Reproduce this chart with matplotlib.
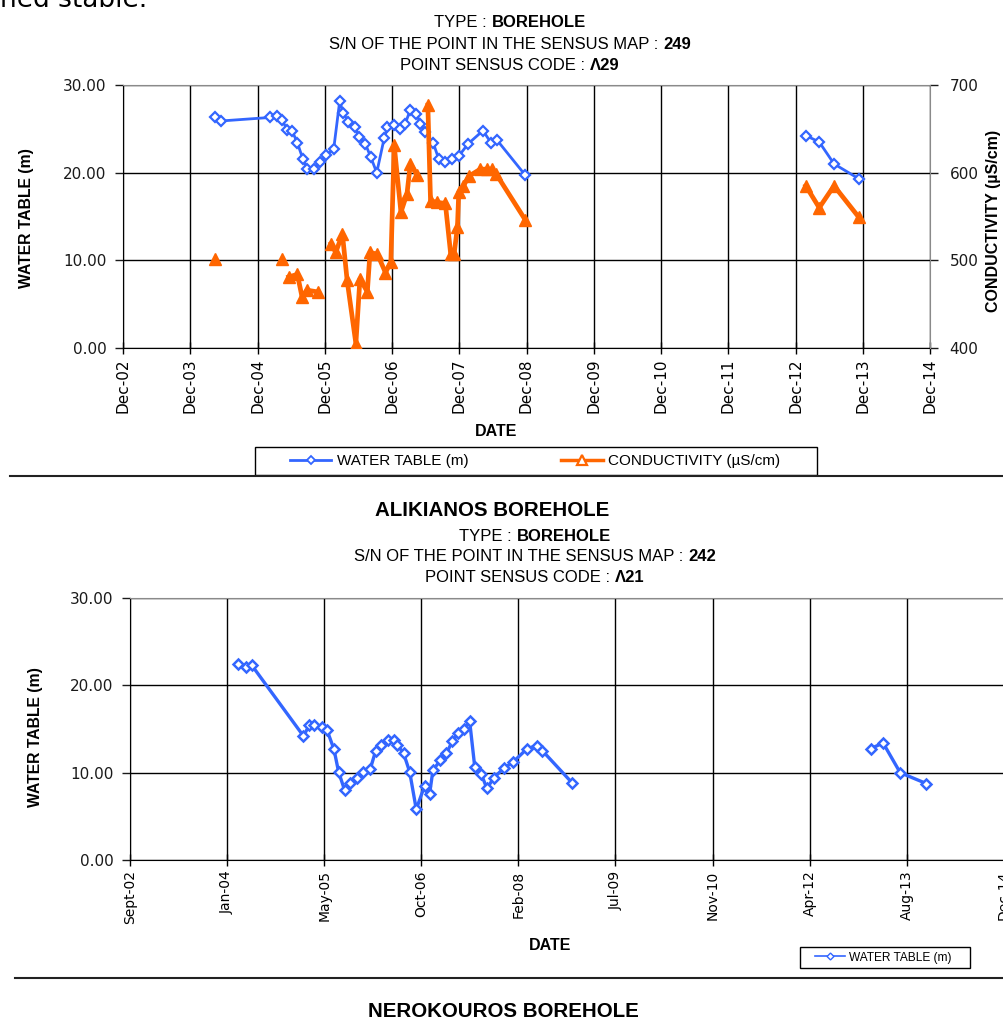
import numpy as np
import matplotlib
matplotlib.use('Agg')
import matplotlib.pyplot as plt
from matplotlib.lines import Line2D
from matplotlib.patches import Rectangle

W, H = 1004, 1019
SANS = ['Liberation Sans', 'DejaVu Sans']
BLUE = '#3366ff'
ORANGE = '#ff6600'
nan = np.nan

# ---------- chart 1 (x = decimal year) ----------
wt1_year = [2004.29, 2004.38, 2005.11, 2005.20, 2005.28, 2005.36, 2005.43, 2005.51, 2005.59, 2005.66,
            2005.75, 2005.85, 2005.94, 2006.05, 2006.14, 2006.19, 2006.27, 2006.37, 2006.42, 2006.52,
            2006.60, 2006.69, 2006.80, 2006.85, 2006.94, 2007.03, 2007.11, 2007.19, 2007.28, 2007.34,
            2007.41, 2007.53, 2007.61, 2007.71, 2007.81, 2007.91, 2008.05, 2008.27, 2008.39, 2008.48,
            2008.90, 2011.00, 2013.08, 2013.27, 2013.49, 2013.86]
wt1_val = [26.3, 25.9, 26.3, 26.5, 26.0, 24.9, 24.8, 23.4, 21.6, 20.4,
           20.4, 21.2, 22.0, 22.7, 28.2, 26.8, 25.8, 25.2, 24.1, 23.3,
           21.8, 20.0, 23.9, 25.2, 25.4, 25.0, 25.5, 27.2, 26.7, 25.6,
           24.6, 23.4, 21.6, 21.2, 21.6, 21.9, 23.3, 24.8, 23.4, 23.7,
           19.7, nan, 24.2, 23.5, 21.0, 19.3]

ec_year = [2004.29, 2004.80, 2005.28, 2005.33, 2005.38, 2005.51, 2005.58, 2005.65, 2005.81, 2005.90,
           2006.01, 2006.08, 2006.18, 2006.25, 2006.38, 2006.44, 2006.55, 2006.59, 2006.70, 2006.82,
           2006.90, 2006.95, 2007.05, 2007.14, 2007.19, 2007.29, 2007.37, 2007.45, 2007.49, 2007.59,
           2007.71, 2007.79, 2007.84, 2007.89, 2007.91, 2007.98, 2008.06, 2008.23, 2008.33, 2008.40,
           2008.47, 2008.90, 2011.00, 2013.07, 2013.27, 2013.49, 2013.86]
ec_val = [501, nan, 501, nan, 481, 484, 458, 466, 464, nan,
          519, 509, 530, 477, 405, 479, 464, 509, 507, 486,
          498, 631, 555, 576, 610, 597, nan, 677, 568, 566,
          565, 507, 507, 538, 578, 585, 596, 604, 604, 604,
          598, 546, nan, 585, 560, 585, 549]

xt1_pos = [2002.917 + k for k in range(13)]
xt1_lab = ['Dec-02', 'Dec-03', 'Dec-04', 'Dec-05', 'Dec-06', 'Dec-07', 'Dec-08',
           'Dec-09', 'Dec-10', 'Dec-11', 'Dec-12', 'Dec-13', 'Dec-14']

# ---------- chart 2 (x = days after 1 Sept 2002) ----------
wt2_day = [555, 598, 627, 893, 924, 950, 990, 1014, 1050, 1074,
           1105, 1134, 1168, 1199, 1237, 1265, 1294, 1328, 1357, 1376,
           1409, 1440, 1474, 1517, 1543, 1560, 1598, 1629, 1660, 1689,
           1718, 1749, 1775, 1809, 1838, 1873, 1924, 1972, 2045, 2096,
           2124, 2278, 3000, 3814, 3878, 3966, 4101]
wt2_val = [22.4, 22.1, 22.3, 14.2, 15.45, 15.5, 15.2, 14.9, 12.7, 10.1,
           8.0, 8.8, 9.4, 10.1, 10.4, 12.5, 13.2, 13.7, 13.7, 13.2,
           12.2, 10.1, 5.8, 8.5, 7.6, 10.3, 11.4, 12.2, 13.6, 14.5,
           15.0, 15.9, 10.7, 9.8, 8.2, 9.4, 10.5, 11.2, 12.75, 13.1,
           12.5, 8.8, nan, 12.75, 13.4, 10.0, 8.75]

xt2_pos = [500 * k for k in range(10)]
xt2_lab = ['Sept-02', 'Jan-04', 'May-05', 'Oct-06', 'Feb-08', 'Jul-09', 'Nov-10',
           'Apr-12', 'Aug-13', 'Dec-14']

yt_wt = [0, 10, 20, 30]
yt_ec = [400, 500, 600, 700]


def fx(x):
    return x / W


def fy(y):
    return 1 - y / H


fig = plt.figure(figsize=(W / 100, H / 100), dpi=100)
fig.patch.set_facecolor('white')


def mixed(cx, base, plain, bold, size):
    # "plain : " + bold value, centred on cx (pixels)
    t1 = fig.text(0, fy(base), plain, fontsize=size, family=SANS, va='baseline', ha='left')
    t2 = fig.text(0, fy(base), bold, fontsize=size, family=SANS, weight='bold', va='baseline', ha='left')
    r = fig.canvas.get_renderer()
    w1 = t1.get_window_extent(r).width
    w2 = t2.get_window_extent(r).width
    gap = 0.28 * size * 100 / 72
    x0 = cx - (w1 + gap + w2) / 2
    t1.set_x(fx(x0))
    t2.set_x(fx(x0 + w1 + gap))


def style_axes(ax):
    ax.grid(True, color='black', lw=1)
    ax.spines['left'].set_color('black')
    ax.spines['bottom'].set_color('black')
    ax.spines['top'].set_color('#8a8a8a')
    ax.spines['right'].set_visible(False)
    ax.set_yticks(yt_wt)
    ax.set_yticklabels([f'{v:.2f}' for v in yt_wt])
    ax.set_ylim(0, 30)
    ax.tick_params(axis='y', direction='out', length=6, width=1, pad=6, labelsize=11, colors='#1a1a1a')


# ================= chart 1 =================
ax1 = fig.add_axes([fx(123), fy(348), (930 - 123) / W, (348 - 85) / H])
ax1.plot(wt1_year, wt1_val, color=BLUE, lw=2, marker='D', ms=5.2, mfc='white', mec=BLUE, mew=1.6, zorder=3)
ax1.set_xlim(xt1_pos[0], xt1_pos[-1])
ax1.set_xticks(xt1_pos)
ax1.set_xticklabels(xt1_lab)
style_axes(ax1)
ax1.tick_params(axis='x', direction='inout', length=9, width=1, pad=3, labelsize=11, labelrotation=90)

ax2 = ax1.twinx()
ax2.plot(ec_year, ec_val, color=ORANGE, lw=3.4, marker='^', ms=8, mfc=ORANGE, mec=ORANGE, zorder=3)
ax2.set_ylim(400, 700)
ax2.set_yticks(yt_ec)
ax2.tick_params(axis='y', direction='out', length=6, width=1, pad=8, labelsize=11, colors='#1a1a1a')
for s in ['left', 'top', 'bottom']:
    ax2.spines[s].set_visible(False)
ax2.spines['right'].set_color('#8a8a8a')

fig.text(fx(27), fy(218), 'WATER TABLE (m)', rotation=90, fontsize=11.3, weight='bold',
         family=SANS, ha='center', va='center')
fig.text(fx(994), fy(221), 'CONDUCTIVITY (µS/cm)', rotation=90, fontsize=11.5, weight='bold',
         family=SANS, ha='center', va='center')
fig.text(fx(496), fy(431), 'DATE', fontsize=11.5, weight='bold', family=SANS, ha='center', va='center')

mixed(510, 27, 'TYPE :', 'BOREHOLE', 12)
mixed(510, 49, 'S/N OF THE POINT IN THE SENSUS MAP :', '249', 12)
mixed(510, 70, 'POINT SENSUS CODE :', 'Λ29', 12)

h1 = Line2D([], [], color=BLUE, lw=2, marker='D', ms=4.5, mfc='white', mec=BLUE, mew=1.3)
h2 = Line2D([], [], color=ORANGE, lw=2.5, marker='^', ms=6.5, mfc='white', mec=ORANGE, mew=1.6)
fig.legend([h1, h2], ['WATER TABLE (m)', 'CONDUCTIVITY (µS/cm)'], loc='center',
           bbox_to_anchor=(fx(535), fy(461)), ncol=2, frameon=False,
           prop={'family': SANS, 'size': 11}, handlelength=2.7, handletextpad=0.35,
           columnspacing=6.1, borderpad=0)
fig.add_artist(Rectangle((fx(255), fy(475)), (817 - 255) / W, 28 / H, transform=fig.transFigure,
                         fill=False, ec='black', lw=1))

fig.add_artist(Line2D([fx(10), 1], [fy(476), fy(476)], color='#222222', lw=1.5))

# ================= chart 2 =================
fig.text(fx(492), fy(516), 'ALIKIANOS BOREHOLE', fontsize=14.8, weight='bold', family=SANS,
         ha='center', va='baseline')
mixed(535, 541, 'TYPE :', 'BOREHOLE', 12)
mixed(535, 561, 'S/N OF THE POINT IN THE SENSUS MAP :', '242', 12)
mixed(535, 582, 'POINT SENSUS CODE :', 'Λ21', 12)

px_per_500 = 97.1
ax3 = fig.add_axes([fx(130), fy(860), 4520 / 500 * px_per_500 / W, (860 - 598) / H])
ax3.plot(wt2_day, wt2_val, color=BLUE, lw=2.4, marker='D', ms=5.5, mfc='white', mec=BLUE, mew=1.8, zorder=3)
ax3.set_xlim(0, 4520)
ax3.set_xticks(xt2_pos)
ax3.set_xticklabels(xt2_lab)
style_axes(ax3)
ax3.tick_params(axis='x', direction='inout', length=9, width=1, pad=3, labelsize=10, labelrotation=90)

fig.text(fx(36), fy(737), 'WATER TABLE (m)', rotation=90, fontsize=11.3, weight='bold',
         family=SANS, ha='center', va='center')
fig.text(fx(550), fy(945), 'DATE', fontsize=11.5, weight='bold', family=SANS, ha='center', va='center')

h3 = Line2D([], [], color=BLUE, lw=1.2, marker='D', ms=3.5, mfc='white', mec=BLUE, mew=1)
fig.legend([h3], ['WATER TABLE (m)'], loc='center', bbox_to_anchor=(fx(883), fy(957.5)),
           frameon=False, prop={'family': SANS, 'size': 8.6}, handlelength=2.5,
           handletextpad=0.35, borderpad=0)
fig.add_artist(Rectangle((fx(800), fy(968)), 170 / W, 21 / H, transform=fig.transFigure,
                         fill=False, ec='black', lw=1))

fig.add_artist(Line2D([fx(15), 1], [fy(978), fy(978)], color='#222222', lw=1.5))
fig.text(fx(503), fy(1017), 'NEROKOUROS BOREHOLE', fontsize=14.8, weight='bold', family=SANS,
         ha='center', va='baseline')

# tail of the preceding paragraph, cut by the page crop
fig.text(0, fy(7), 'ned stable.', fontsize=19, family='DejaVu Sans', ha='left', va='baseline')

fig.savefig('out.png', dpi=100, facecolor='white')
